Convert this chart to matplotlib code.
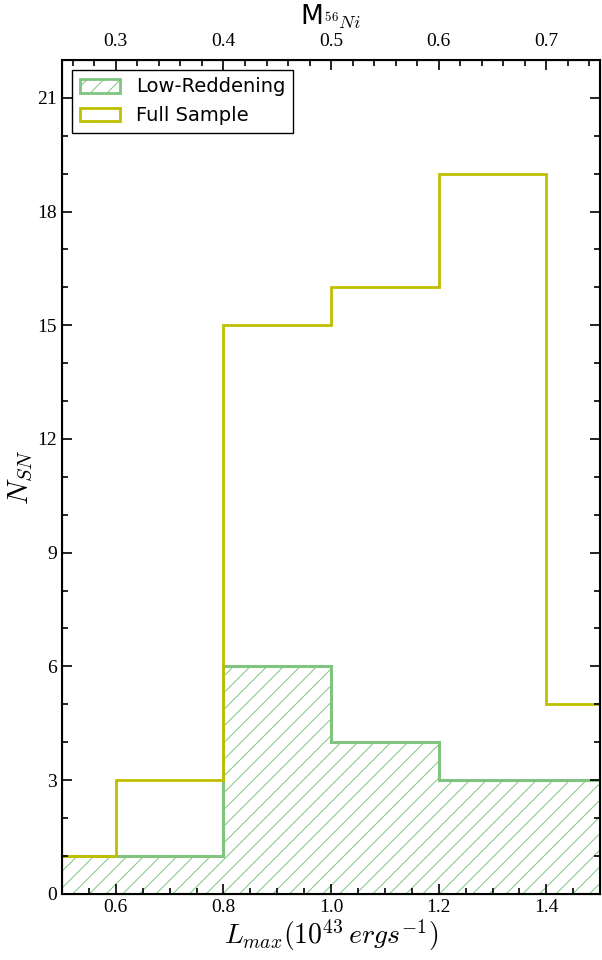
import numpy as np
import matplotlib
matplotlib.use("Agg")
import matplotlib.pyplot as plt
from matplotlib.patches import Patch

# Histogram bins in L_max (10^43 erg/s)
bin_edges = [0.4, 0.6, 0.8, 1.0, 1.2, 1.4, 1.6]
full_counts = [1, 3, 15, 16, 19, 5]
lowred_counts = [1, 1, 6, 4, 3, 3]

x_ticks = [0.6, 0.8, 1.0, 1.2, 1.4]
y_ticks = [0, 3, 6, 9, 12, 15, 18, 21]
ni_ticks = [0.3, 0.4, 0.5, 0.6, 0.7]

plt.rcParams['font.family'] = ['Liberation Serif', 'DejaVu Serif']
plt.rcParams['mathtext.fontset'] = 'cm'
plt.rcParams['hatch.linewidth'] = 0.7

green = (0.5, 0.77, 0.5)
yellow = (0.75, 0.75, 0.0)

fig = plt.figure(figsize=(6.02, 9.6), dpi=100)
ax = fig.add_axes([0.103, 0.069, 0.894, 0.8685])

ax.stairs(lowred_counts, bin_edges, fill=True, facecolor='none', edgecolor=green,
          hatch='//', linewidth=2)
ax.stairs(lowred_counts, bin_edges, color=green, linewidth=2.2)
ax.stairs(full_counts, bin_edges, color=yellow, linewidth=2)

ax.set_xlim(0.5, 1.5)
ax.set_ylim(0, 22)
ax.set_xticks(x_ticks)
ax.set_xticklabels([f"{v:.1f}" for v in x_ticks])
ax.set_xticks(np.arange(0.55, 1.5, 0.05), minor=True)
ax.set_yticks(y_ticks)
ax.set_yticks(np.arange(0, 22, 1), minor=True)
ax.tick_params(which='both', direction='in', right=True, top=False, width=1.2, labelsize=14)
ax.tick_params(which='major', length=7)
ax.tick_params(which='minor', length=4)
for s in ax.spines.values():
    s.set_linewidth(1.5)

ax.set_xlabel(r'$L_{max}(10^{43}\,ergs^{-1})$', fontsize=20, labelpad=1)
ax.set_ylabel(r'$N_{SN}$', fontsize=21, labelpad=2)

ax2 = ax.twiny()
ax2.set_xlim(0.25, 0.75)
ax2.set_xticks(ni_ticks)
ax2.set_xticklabels([f"{v:.1f}" for v in ni_ticks])
ax2.set_xticks(np.arange(0.26, 0.75, 0.02), minor=True)
ax2.tick_params(which='both', direction='in', width=1.2, labelsize=14, pad=7)
ax2.tick_params(which='major', length=7)
ax2.tick_params(which='minor', length=4)
ax2.set_xlabel(r'M$_{^{56}Ni}$', fontsize=19, family='DejaVu Sans', labelpad=6)

handles = [Patch(facecolor='none', edgecolor=green, hatch='//', linewidth=2, label='Low-Reddening'),
           Patch(facecolor='none', edgecolor=yellow, linewidth=2, label='Full Sample')]
leg = ax.legend(handles=handles, loc='upper left', fancybox=False, framealpha=1,
                edgecolor='black', prop={'family': 'DejaVu Sans', 'size': 14},
                borderaxespad=0.5, handlelength=2.1, labelspacing=0.5)
leg.get_frame().set_linewidth(1.0)

fig.savefig('out.png', dpi=100)
